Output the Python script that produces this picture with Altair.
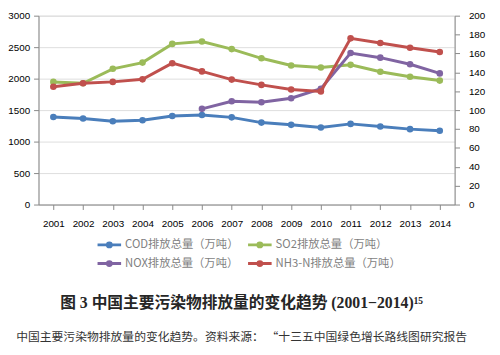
import altair as alt
import pandas as pd

years = [str(y) for y in range(2001, 2015)]
cod = [1390, 1366, 1323, 1339, 1406, 1422, 1385, 1302, 1266, 1224, 1281, 1240, 1198, 1172]
so2 = [1948, 1927, 2156, 2255, 2552, 2589, 2469, 2323, 2208, 2177, 2219, 2109, 2031, 1969]
nox = [None, None, None, None, None, 1520, 1641, 1625, 1688, 1839, 2406, 2333, 2229, 2083]
nh3n = [124.7, 128.5, 129.9, 132.6, 149.7, 141.0, 132.3, 126.7, 121.9, 119.8, 176.0, 171.0, 166.0, 161.5]

series_names = ["COD排放总量（万吨）", "SO2排放总量（万吨）", "NOX排放总量（万吨）", "NH3-N排放总量（万吨）"]
colors = ["#4a7ebb", "#9bbb59", "#8064a2", "#c0504d"]
left_ticks = [0, 500, 1000, 1500, 2000, 2500, 3000]
right_ticks = [0, 20, 40, 60, 80, 100, 120, 140, 160, 180, 200]

caption = "图 3 中国主要污染物排放量的变化趋势 (2001−2014)¹⁵"
note = "中国主要污染物排放量的变化趋势。资料来源： “十三五中国绿色增长路线图研究报告"

rows_left = []
for name, vals in zip(series_names[:3], [cod, so2, nox]):
    for yr, v in zip(years, vals):
        if v is not None:
            rows_left.append({"year": yr, "value": v, "series": name})
rows_right = [{"year": yr, "value": v, "series": series_names[3]} for yr, v in zip(years, nh3n)]

df_left = pd.DataFrame(rows_left)
df_right = pd.DataFrame(rows_right)

serif = "Liberation Serif, Noto Sans CJK SC, serif"
sym_path = ("M-1.26,0L1.26,0M-0.21,0A0.21,0.21 0 1,0 0.21,0"
            "A0.21,0.21 0 1,0 -0.21,0")

x_enc = alt.X("year:O", title=None, sort=years,
              axis=alt.Axis(labelAngle=0, labelPadding=9))

color_enc = alt.Color(
    "series:N",
    scale=alt.Scale(domain=series_names, range=colors),
    legend=alt.Legend(
        title=None, orient="none", legendX=61, legendY=222, columns=2,
        direction="horizontal", gridAlign="each",
        symbolType=sym_path, symbolSize=361, symbolStrokeWidth=3,
        labelFont="Noto Sans CJK SC", labelFontSize=11.5, labelColor="#7f7f7f",
        columnPadding=3, rowPadding=0, labelOffset=5,
    ),
)

y_left = alt.Y("value:Q", title=None,
               scale=alt.Scale(domain=[0, 3000]),
               axis=alt.Axis(values=left_ticks, grid=True, orient="left",
                             labelPadding=4, format="d"))
y_right = alt.Y("value:Q", title=None,
                scale=alt.Scale(domain=[0, 200]),
                axis=alt.Axis(values=right_ticks, grid=False, orient="right",
                              labelPadding=9, format="d"))

base_left = alt.Chart(df_left).encode(x=x_enc, y=y_left, color=color_enc,
                                      detail="series:N")
left = base_left.mark_line(strokeWidth=3) + base_left.mark_point(filled=True, size=45, opacity=1)

base_right = alt.Chart(df_right).encode(x=x_enc, y=y_right, color=color_enc)
right = base_right.mark_line(strokeWidth=3) + base_right.mark_point(filled=True, size=45, opacity=1)

chart = alt.layer(left, right).resolve_scale(y="independent").properties(
    width=423, height=192,
    autosize=alt.AutoSizeParams(type="none"),
    padding={"left": 31, "top": 5, "right": 38, "bottom": 142},
    title=alt.TitleParams(
        text=caption, subtitle=note, orient="bottom", anchor="middle",
        font=serif, fontSize=16, fontWeight="bold", color="#262626",
        subtitleFont="Noto Sans CJK SC", subtitleFontSize=12, subtitleColor="#333333",
        subtitlePadding=22, offset=24, dx=-5,
    ),
).configure_view(
    stroke="#d9d9d9", strokeWidth=1
).configure_axis(
    ticks=False, domain=False,
    labelFont="Liberation Serif, serif", labelFontSize=10.5,
    labelColor="#404040",
    gridColor="#d9d9d9", gridWidth=1,
).configure(background="white")

chart.save("out.html", embed_options={"renderer": "svg", "actions": False})
